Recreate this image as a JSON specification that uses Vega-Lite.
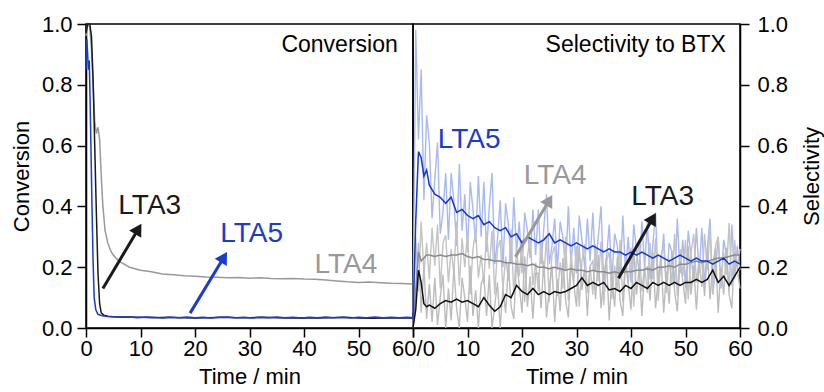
{
"$schema":"https://vega.github.io/schema/vega-lite/v6.json",
"background":"white",
"padding":{"left":9,"top":12,"right":0,"bottom":0},
"spacing":0,
"bounds":"flush",
"config":{
 "font":"Liberation Sans",
 "view":{"stroke":"#000","strokeWidth":1.5},
 "axis":{"domainColor":"#000","domainWidth":1.5,"tickColor":"#000","tickWidth":1.5,"tickSize":9,"labelFontSize":22,"titleFontSize":22,"labelColor":"#000","titleColor":"#000","titleFontWeight":"normal","grid":false,"labelFont":"Liberation Sans","titleFont":"Liberation Sans"}
},
"datasets":{
 "conv":[
  {"s":"LTA4","t":0,"v":0.96},{"s":"LTA4","t":0.3,"v":1.0},{"s":"LTA4","t":0.7,"v":0.99},{"s":"LTA4","t":1.0,"v":0.92},{"s":"LTA4","t":1.3,"v":0.8},{"s":"LTA4","t":1.6,"v":0.68},{"s":"LTA4","t":1.9,"v":0.64},{"s":"LTA4","t":2.2,"v":0.66},{"s":"LTA4","t":2.5,"v":0.62},{"s":"LTA4","t":2.8,"v":0.5},{"s":"LTA4","t":3.1,"v":0.4},{"s":"LTA4","t":3.5,"v":0.32},{"s":"LTA4","t":4,"v":0.28},{"s":"LTA4","t":4.5,"v":0.255},{"s":"LTA4","t":5,"v":0.24},{"s":"LTA4","t":6,"v":0.22},{"s":"LTA4","t":7,"v":0.21},{"s":"LTA4","t":8,"v":0.2},{"s":"LTA4","t":9,"v":0.195},{"s":"LTA4","t":10,"v":0.19},{"s":"LTA4","t":12,"v":0.185},{"s":"LTA4","t":14,"v":0.178},{"s":"LTA4","t":16,"v":0.175},{"s":"LTA4","t":18,"v":0.172},{"s":"LTA4","t":20,"v":0.17},{"s":"LTA4","t":22,"v":0.168},{"s":"LTA4","t":24,"v":0.167},{"s":"LTA4","t":26,"v":0.165},{"s":"LTA4","t":28,"v":0.166},{"s":"LTA4","t":30,"v":0.164},{"s":"LTA4","t":32,"v":0.165},{"s":"LTA4","t":34,"v":0.163},{"s":"LTA4","t":36,"v":0.162},{"s":"LTA4","t":38,"v":0.163},{"s":"LTA4","t":40,"v":0.161},{"s":"LTA4","t":42,"v":0.16},{"s":"LTA4","t":44,"v":0.158},{"s":"LTA4","t":46,"v":0.155},{"s":"LTA4","t":48,"v":0.152},{"s":"LTA4","t":50,"v":0.15},{"s":"LTA4","t":52,"v":0.151},{"s":"LTA4","t":54,"v":0.149},{"s":"LTA4","t":56,"v":0.147},{"s":"LTA4","t":58,"v":0.146},{"s":"LTA4","t":60,"v":0.145},
  {"s":"LTA3","t":0,"v":0.97},{"s":"LTA3","t":0.3,"v":1.0},{"s":"LTA3","t":0.7,"v":1.0},{"s":"LTA3","t":1.0,"v":0.96},{"s":"LTA3","t":1.3,"v":0.82},{"s":"LTA3","t":1.6,"v":0.6},{"s":"LTA3","t":1.9,"v":0.38},{"s":"LTA3","t":2.2,"v":0.18},{"s":"LTA3","t":2.5,"v":0.08},{"s":"LTA3","t":2.8,"v":0.05},{"s":"LTA3","t":3.3,"v":0.042},{"s":"LTA3","t":4,"v":0.039},{"s":"LTA3","t":5,"v":0.037},{"s":"LTA3","t":7.5,"v":0.036},{"s":"LTA3","t":10,"v":0.035},{"s":"LTA3","t":12.5,"v":0.034},{"s":"LTA3","t":15,"v":0.035},{"s":"LTA3","t":17.5,"v":0.034},{"s":"LTA3","t":20,"v":0.033},{"s":"LTA3","t":22.5,"v":0.034},{"s":"LTA3","t":25,"v":0.035},{"s":"LTA3","t":27.5,"v":0.034},{"s":"LTA3","t":30,"v":0.034},{"s":"LTA3","t":32.5,"v":0.035},{"s":"LTA3","t":35,"v":0.034},{"s":"LTA3","t":37.5,"v":0.033},{"s":"LTA3","t":40,"v":0.034},{"s":"LTA3","t":42.5,"v":0.033},{"s":"LTA3","t":45,"v":0.034},{"s":"LTA3","t":47.5,"v":0.035},{"s":"LTA3","t":50,"v":0.033},{"s":"LTA3","t":52.5,"v":0.032},{"s":"LTA3","t":55,"v":0.033},{"s":"LTA3","t":57.5,"v":0.034},{"s":"LTA3","t":60,"v":0.033},
  {"s":"LTA5","t":0,"v":0.85},{"s":"LTA5","t":0.15,"v":0.95},{"s":"LTA5","t":0.3,"v":0.9},{"s":"LTA5","t":0.45,"v":0.85},{"s":"LTA5","t":0.6,"v":0.88},{"s":"LTA5","t":0.75,"v":0.75},{"s":"LTA5","t":0.9,"v":0.6},{"s":"LTA5","t":1.1,"v":0.4},{"s":"LTA5","t":1.3,"v":0.22},{"s":"LTA5","t":1.5,"v":0.1},{"s":"LTA5","t":1.8,"v":0.06},{"s":"LTA5","t":2.2,"v":0.045},{"s":"LTA5","t":3,"v":0.04},{"s":"LTA5","t":4,"v":0.038},{"s":"LTA5","t":5,"v":0.037},{"s":"LTA5","t":6.5,"v":0.035},{"s":"LTA5","t":8,"v":0.036},{"s":"LTA5","t":9.5,"v":0.034},{"s":"LTA5","t":11,"v":0.036},{"s":"LTA5","t":12.5,"v":0.035},{"s":"LTA5","t":14,"v":0.033},{"s":"LTA5","t":15.5,"v":0.035},{"s":"LTA5","t":17,"v":0.034},{"s":"LTA5","t":18.5,"v":0.036},{"s":"LTA5","t":20,"v":0.034},{"s":"LTA5","t":21.5,"v":0.035},{"s":"LTA5","t":23,"v":0.033},{"s":"LTA5","t":24.5,"v":0.035},{"s":"LTA5","t":26,"v":0.036},{"s":"LTA5","t":27.5,"v":0.034},{"s":"LTA5","t":29,"v":0.035},{"s":"LTA5","t":30.5,"v":0.033},{"s":"LTA5","t":32,"v":0.035},{"s":"LTA5","t":33.5,"v":0.034},{"s":"LTA5","t":35,"v":0.036},{"s":"LTA5","t":36.5,"v":0.034},{"s":"LTA5","t":38,"v":0.035},{"s":"LTA5","t":39.5,"v":0.033},{"s":"LTA5","t":41,"v":0.035},{"s":"LTA5","t":42.5,"v":0.034},{"s":"LTA5","t":44,"v":0.036},{"s":"LTA5","t":45.5,"v":0.034},{"s":"LTA5","t":47,"v":0.035},{"s":"LTA5","t":48.5,"v":0.033},{"s":"LTA5","t":50,"v":0.035},{"s":"LTA5","t":51.5,"v":0.034},{"s":"LTA5","t":53,"v":0.036},{"s":"LTA5","t":54.5,"v":0.034},{"s":"LTA5","t":56,"v":0.035},{"s":"LTA5","t":57.5,"v":0.034},{"s":"LTA5","t":59,"v":0.035},{"s":"LTA5","t":60,"v":0.034}
 ],
 "sm":[
  {"t":0,"a":0.03,"b":0.0,"c":0.0},{"t":0.5,"a":0.35,"b":0.12,"c":0.06},{"t":1,"a":0.58,"b":0.25,"c":0.19},{"t":1.5,"a":0.56,"b":0.22,"c":0.15},{"t":2,"a":0.5,"b":0.23,"c":0.08},{"t":2.5,"a":0.52,"b":0.24,"c":0.07},{"t":3,"a":0.47,"b":0.24,"c":0.075},{"t":4,"a":0.44,"b":0.235,"c":0.065},{"t":5,"a":0.43,"b":0.24,"c":0.08},{"t":6,"a":0.41,"b":0.235,"c":0.09},{"t":7,"a":0.43,"b":0.24,"c":0.085},{"t":8,"a":0.38,"b":0.24,"c":0.095},{"t":9,"a":0.39,"b":0.245,"c":0.085},{"t":10,"a":0.37,"b":0.235,"c":0.09},{"t":11,"a":0.36,"b":0.23,"c":0.08},{"t":12,"a":0.37,"b":0.235,"c":0.07},{"t":13,"a":0.34,"b":0.225,"c":0.1},{"t":14,"a":0.35,"b":0.225,"c":0.075},{"t":15,"a":0.33,"b":0.22,"c":0.055},{"t":16,"a":0.32,"b":0.22,"c":0.07},{"t":17,"a":0.33,"b":0.215,"c":0.11},{"t":18,"a":0.3,"b":0.215,"c":0.1},{"t":19,"a":0.31,"b":0.21,"c":0.14},{"t":20,"a":0.28,"b":0.21,"c":0.12},{"t":21,"a":0.3,"b":0.205,"c":0.11},{"t":22,"a":0.29,"b":0.21,"c":0.13},{"t":23,"a":0.28,"b":0.2,"c":0.11},{"t":24,"a":0.29,"b":0.2,"c":0.12},{"t":25,"a":0.31,"b":0.195,"c":0.11},{"t":26,"a":0.28,"b":0.2,"c":0.12},{"t":27,"a":0.29,"b":0.195,"c":0.115},{"t":28,"a":0.28,"b":0.19,"c":0.12},{"t":29,"a":0.27,"b":0.195,"c":0.13},{"t":30,"a":0.28,"b":0.19,"c":0.14},{"t":31,"a":0.27,"b":0.19,"c":0.165},{"t":32,"a":0.26,"b":0.185,"c":0.14},{"t":33,"a":0.27,"b":0.19,"c":0.15},{"t":34,"a":0.26,"b":0.185,"c":0.14},{"t":35,"a":0.25,"b":0.185,"c":0.15},{"t":36,"a":0.26,"b":0.18,"c":0.125},{"t":37,"a":0.25,"b":0.185,"c":0.13},{"t":38,"a":0.25,"b":0.18,"c":0.12},{"t":39,"a":0.24,"b":0.185,"c":0.14},{"t":40,"a":0.25,"b":0.185,"c":0.13},{"t":41,"a":0.24,"b":0.19,"c":0.15},{"t":42,"a":0.25,"b":0.19,"c":0.14},{"t":43,"a":0.24,"b":0.195,"c":0.13},{"t":44,"a":0.23,"b":0.19,"c":0.15},{"t":45,"a":0.24,"b":0.2,"c":0.14},{"t":46,"a":0.23,"b":0.2,"c":0.15},{"t":47,"a":0.22,"b":0.205,"c":0.14},{"t":48,"a":0.23,"b":0.2,"c":0.15},{"t":49,"a":0.24,"b":0.21,"c":0.14},{"t":50,"a":0.23,"b":0.21,"c":0.15},{"t":51,"a":0.22,"b":0.215,"c":0.15},{"t":52,"a":0.23,"b":0.22,"c":0.16},{"t":53,"a":0.22,"b":0.215,"c":0.15},{"t":54,"a":0.22,"b":0.22,"c":0.16},{"t":55,"a":0.21,"b":0.225,"c":0.19},{"t":56,"a":0.22,"b":0.23,"c":0.15},{"t":57,"a":0.23,"b":0.23,"c":0.17},{"t":58,"a":0.21,"b":0.235,"c":0.14},{"t":59,"a":0.22,"b":0.24,"c":0.17},{"t":60,"a":0.21,"b":0.24,"c":0.2}
 ],
 "raw":[
  {"t":0,"a":0.05,"b":0.0,"c":0.0},{"t":0.5,"a":0.98,"b":0.3,"c":0.1},{"t":1,"a":0.62,"b":0.12,"c":0.28},{"t":1.5,"a":0.85,"b":0.35,"c":0.05},{"t":2,"a":0.42,"b":0.18,"c":0.2},{"t":2.5,"a":0.7,"b":0.28,"c":0.03},
  {"t":3,"a":0.61,"b":0.16,"c":0.145},{"t":3.5,"a":0.36,"b":0.33,"c":0.02},{"t":4,"a":0.49,"b":0.205,"c":0.165},{"t":4.5,"a":0.61,"b":0.34,"c":0.01},{"t":5,"a":0.31,"b":0.13,"c":0.1},{"t":5.5,"a":0.38,"b":0.28,"c":0.175},{"t":6,"a":0.51,"b":0.305,"c":0.0},{"t":6.5,"a":0.29,"b":0.15,"c":0.13},{"t":7,"a":0.51,"b":0.26,"c":0.025},{"t":7.5,"a":0.42,"b":0.18,"c":0.2},{"t":8,"a":0.27,"b":0.35,"c":0.065},{"t":8.5,"a":0.54,"b":0.14,"c":0.0},{"t":9,"a":0.32,"b":0.295,"c":0.165},{"t":9.5,"a":0.44,"b":0.2,"c":0.1},{"t":10,"a":0.25,"b":0.315,"c":0.02},{"t":10.5,"a":0.48,"b":0.11,"c":0.205},{"t":11,"a":0.39,"b":0.26,"c":0.04},{"t":11.5,"a":0.28,"b":0.32,"c":0.125},{"t":12,"a":0.5,"b":0.165,"c":0.0},{"t":12.5,"a":0.3,"b":0.24,"c":0.145},{"t":13,"a":0.48,"b":0.145,"c":0.17},{"t":13.5,"a":0.25,"b":0.315,"c":0.04},{"t":14,"a":0.4,"b":0.195,"c":0.175},{"t":14.5,"a":0.51,"b":0.32,"c":0.0},{"t":15,"a":0.21,"b":0.11,"c":0.075},{"t":15.5,"a":0.29,"b":0.26,"c":0.15},{"t":16,"a":0.42,"b":0.29,"c":0.0},{"t":16.5,"a":0.2,"b":0.125,"c":0.13},{"t":17,"a":0.41,"b":0.235,"c":0.05},{"t":17.5,"a":0.34,"b":0.155,"c":0.215},{"t":18,"a":0.21,"b":0.325,"c":0.07},{"t":18.5,"a":0.43,"b":0.11,"c":0.03},{"t":19,"a":0.25,"b":0.26,"c":0.22},{"t":19.5,"a":0.35,"b":0.17,"c":0.14},{"t":20,"a":0.18,"b":0.29,"c":0.05},{"t":20.5,"a":0.38,"b":0.085,"c":0.235},{"t":21,"a":0.32,"b":0.235,"c":0.07},{"t":21.5,"a":0.23,"b":0.3,"c":0.17},{"t":22,"a":0.39,"b":0.14,"c":0.03},{"t":22.5,"a":0.24,"b":0.215,"c":0.18},{"t":23,"a":0.39,"b":0.12,"c":0.18},{"t":23.5,"a":0.21,"b":0.29,"c":0.065},{"t":24,"a":0.33,"b":0.17,"c":0.22},{"t":24.5,"a":0.44,"b":0.3,"c":0.035},{"t":25,"a":0.21,"b":0.085,"c":0.13},{"t":25.5,"a":0.27,"b":0.24,"c":0.205},{"t":26,"a":0.36,"b":0.27,"c":0.02},{"t":26.5,"a":0.19,"b":0.105,"c":0.16},{"t":27,"a":0.35,"b":0.215,"c":0.055},{"t":27.5,"a":0.3,"b":0.13,"c":0.23},{"t":28,"a":0.19,"b":0.3,"c":0.09},{"t":28.5,"a":0.4,"b":0.09,"c":0.035},{"t":29,"a":0.21,"b":0.245,"c":0.21},{"t":29.5,"a":0.33,"b":0.15,"c":0.145},{"t":30,"a":0.18,"b":0.27,"c":0.07},{"t":30.5,"a":0.37,"b":0.07,"c":0.27},{"t":31,"a":0.29,"b":0.22,"c":0.125},{"t":31.5,"a":0.2,"b":0.275,"c":0.2},{"t":32,"a":0.36,"b":0.115,"c":0.04},{"t":32.5,"a":0.22,"b":0.2,"c":0.205},{"t":33,"a":0.38,"b":0.11,"c":0.22},{"t":33.5,"a":0.19,"b":0.275,"c":0.095},{"t":34,"a":0.3,"b":0.155,"c":0.24},{"t":34.5,"a":0.4,"b":0.285,"c":0.065},{"t":35,"a":0.15,"b":0.075,"c":0.17},{"t":35.5,"a":0.23,"b":0.22,"c":0.23},{"t":36,"a":0.34,"b":0.25,"c":0.025},{"t":36.5,"a":0.16,"b":0.095,"c":0.17},{"t":37,"a":0.31,"b":0.205,"c":0.07},{"t":37.5,"a":0.27,"b":0.12,"c":0.235},{"t":38,"a":0.16,"b":0.29,"c":0.09},{"t":38.5,"a":0.37,"b":0.085,"c":0.04},{"t":39,"a":0.18,"b":0.235,"c":0.22},{"t":39.5,"a":0.3,"b":0.145,"c":0.145},{"t":40,"a":0.15,"b":0.265,"c":0.06},{"t":40.5,"a":0.34,"b":0.07,"c":0.26},{"t":41,"a":0.26,"b":0.22,"c":0.11},{"t":41.5,"a":0.18,"b":0.28,"c":0.195},{"t":42,"a":0.35,"b":0.12,"c":0.04},{"t":42.5,"a":0.2,"b":0.205,"c":0.195},{"t":43,"a":0.35,"b":0.115,"c":0.2},{"t":43.5,"a":0.16,"b":0.28,"c":0.09},{"t":44,"a":0.27,"b":0.16,"c":0.25},{"t":44.5,"a":0.38,"b":0.295,"c":0.065},{"t":45,"a":0.14,"b":0.09,"c":0.16},{"t":45.5,"a":0.21,"b":0.24,"c":0.235},{"t":46,"a":0.31,"b":0.27,"c":0.05},{"t":46.5,"a":0.13,"b":0.115,"c":0.185},{"t":47,"a":0.28,"b":0.225,"c":0.08},{"t":47.5,"a":0.25,"b":0.14,"c":0.255},{"t":48,"a":0.14,"b":0.31,"c":0.12},{"t":48.5,"a":0.36,"b":0.105,"c":0.055},{"t":49,"a":0.18,"b":0.26,"c":0.22},{"t":49.5,"a":0.29,"b":0.17,"c":0.155},{"t":50,"a":0.13,"b":0.29,"c":0.08},{"t":50.5,"a":0.32,"b":0.095,"c":0.27},{"t":51,"a":0.24,"b":0.245,"c":0.11},{"t":51.5,"a":0.16,"b":0.31,"c":0.205},{"t":52,"a":0.33,"b":0.15,"c":0.06},{"t":52.5,"a":0.18,"b":0.225,"c":0.215},{"t":53,"a":0.33,"b":0.135,"c":0.22},{"t":53.5,"a":0.14,"b":0.31,"c":0.105},{"t":54,"a":0.26,"b":0.19,"c":0.26},{"t":54.5,"a":0.36,"b":0.325,"c":0.095},{"t":55,"a":0.11,"b":0.115,"c":0.21},{"t":55.5,"a":0.19,"b":0.27,"c":0.26},{"t":56,"a":0.3,"b":0.3,"c":0.05},{"t":56.5,"a":0.13,"b":0.14,"c":0.2},{"t":57,"a":0.29,"b":0.25,"c":0.11},{"t":57.5,"a":0.24,"b":0.175,"c":0.265},{"t":58,"a":0.12,"b":0.345,"c":0.11},{"t":58.5,"a":0.34,"b":0.14,"c":0.065},{"t":59,"a":0.16,"b":0.29,"c":0.25},{"t":59.5,"a":0.27,"b":0.2,"c":0.195},{"t":60,"a":0.19,"b":0.26,"c":0.13}
 ],
 "lbl":[
  {"p":"L","s":"LTA3","text":"LTA3","t":11.7,"v":0.4},
  {"p":"L","s":"LTA5","text":"LTA5","t":30.4,"v":0.31},
  {"p":"L","s":"LTA4","text":"LTA4","t":47.7,"v":0.207},
  {"p":"R","s":"LTA5","text":"LTA5","t":10.3,"v":0.62},
  {"p":"R","s":"LTA4","text":"LTA4","t":26.1,"v":0.5},
  {"p":"R","s":"LTA3","text":"LTA3","t":45.8,"v":0.43}
 ],
 "notes":[
  {"p":"L","text":"Conversion","t":57.2,"v":0.93},
  {"p":"R","text":"Selectivity to BTX","t":57.4,"v":0.93}
 ],
 "arr":[
  {"p":"L","s":"LTA3","t":3.1,"v":0.13,"t2":9.6,"v2":0.326},
  {"p":"L","s":"LTA5","t":19.1,"v":0.049,"t2":25.3,"v2":0.233},
  {"p":"R","s":"LTA4","t":18.8,"v":0.234,"t2":25.0,"v2":0.42},
  {"p":"R","s":"LTA3","t":37.7,"v":0.164,"t2":44.0,"v2":0.361}
 ]
},
"hconcat":[
 {
  "width":327,"height":304,
  "encoding":{
   "x":{"field":"t","type":"quantitative","scale":{"domain":[0,60],"nice":false},"axis":{"values":[0,10,20,30,40,50,60],"title":"Time / min","labelExpr":"datum.value==60?'60/0':datum.label","labelPadding":1,"titlePadding":7,"labelFlush":false,"labelOverlap":false}},
   "y":{"field":"v","type":"quantitative","scale":{"domain":[0,1],"nice":false},"axis":{"values":[0,0.2,0.4,0.6,0.8,1],"format":".1f","title":"Conversion","labelPadding":5,"titlePadding":8}}
  },
  "layer":[
   {"data":{"name":"conv"},"mark":{"type":"line","strokeWidth":1.5},"encoding":{"color":{"field":"s","type":"nominal","scale":{"domain":["LTA3","LTA4","LTA5"],"range":["#1a1a1a","#999999","#1a3ad1"]},"legend":null},"order":{"field":"t","type":"quantitative"}}},
   {"data":{"name":"arr"},"transform":[{"filter":"datum.p=='L'"}],"mark":{"type":"rule","strokeWidth":3},"encoding":{"x2":{"field":"t2"},"y2":{"field":"v2"},"color":{"field":"s","type":"nominal","legend":null}}},
   {"data":{"name":"arr"},"transform":[{"filter":"datum.p=='L'"}],"mark":{"type":"point","shape":"triangle-up","filled":true,"opacity":1,"size":196,"angle":31},"encoding":{"x":{"field":"t2","type":"quantitative"},"y":{"field":"v2","type":"quantitative"},"color":{"field":"s","type":"nominal","legend":null}}},
   {"data":{"name":"lbl"},"transform":[{"filter":"datum.p=='L'"}],"mark":{"type":"text","fontSize":28,"baseline":"middle","align":"center"},"encoding":{"text":{"field":"text"},"color":{"field":"s","type":"nominal","legend":null}}},
   {"data":{"name":"notes"},"transform":[{"filter":"datum.p=='L'"}],"mark":{"type":"text","fontSize":23,"baseline":"middle","align":"right","color":"#000"},"encoding":{"text":{"field":"text"}}}
  ]
 },
 {
  "width":327,"height":304,
  "encoding":{
   "x":{"field":"t","type":"quantitative","scale":{"domain":[0,60],"nice":false},"axis":{"values":[0,10,20,30,40,50,60],"title":"Time / min","labelExpr":"datum.value==0?'':datum.label","labelPadding":1,"titlePadding":7,"labelFlush":false,"labelOverlap":false}},
   "y":{"field":"a","type":"quantitative","scale":{"domain":[0,1],"nice":false},"axis":{"orient":"right","values":[0,0.2,0.4,0.6,0.8,1],"format":".1f","title":"Selectivity","labelPadding":8,"titlePadding":14,"titleAngle":270,"titleBaseline":"top"}}
  },
  "layer":[
   {"data":{"name":"raw"},"mark":{"type":"line","strokeWidth":1.4,"color":"#a9b9f2"},"encoding":{"y":{"field":"a","type":"quantitative"}}},
   {"data":{"name":"raw"},"mark":{"type":"line","strokeWidth":1.4,"color":"#c4c4c4"},"encoding":{"y":{"field":"b","type":"quantitative"}}},
   {"data":{"name":"raw"},"mark":{"type":"line","strokeWidth":1.4,"color":"#bcbcbc"},"encoding":{"y":{"field":"c","type":"quantitative"}}},
   {"data":{"name":"sm"},"mark":{"type":"line","strokeWidth":1.5,"color":"#8a8a8a"},"encoding":{"y":{"field":"b","type":"quantitative"}}},
   {"data":{"name":"sm"},"mark":{"type":"line","strokeWidth":1.5,"color":"#111111"},"encoding":{"y":{"field":"c","type":"quantitative"}}},
   {"data":{"name":"sm"},"mark":{"type":"line","strokeWidth":1.5,"color":"#1538d0"},"encoding":{"y":{"field":"a","type":"quantitative"}}},
   {"data":{"name":"arr"},"transform":[{"filter":"datum.p=='R'"}],"mark":{"type":"rule","strokeWidth":3},"encoding":{"y":{"field":"v","type":"quantitative"},"x2":{"field":"t2"},"y2":{"field":"v2"},"color":{"field":"s","type":"nominal","scale":{"domain":["LTA3","LTA4","LTA5"],"range":["#000000","#a0a0a0","#1a3ad1"]},"legend":null}}},
   {"data":{"name":"arr"},"transform":[{"filter":"datum.p=='R'"}],"mark":{"type":"point","shape":"triangle-up","filled":true,"opacity":1,"size":196,"angle":30},"encoding":{"x":{"field":"t2","type":"quantitative"},"y":{"field":"v2","type":"quantitative"},"color":{"field":"s","type":"nominal","legend":null}}},
   {"data":{"name":"lbl"},"transform":[{"filter":"datum.p=='R'"}],"mark":{"type":"text","fontSize":28,"baseline":"middle","align":"center"},"encoding":{"y":{"field":"v","type":"quantitative"},"text":{"field":"text"},"color":{"field":"s","type":"nominal","legend":null}}},
   {"data":{"name":"notes"},"transform":[{"filter":"datum.p=='R'"}],"mark":{"type":"text","fontSize":23,"baseline":"middle","align":"right","color":"#000"},"encoding":{"y":{"field":"v","type":"quantitative"},"text":{"field":"text"}}}
  ]
 }
]
}
